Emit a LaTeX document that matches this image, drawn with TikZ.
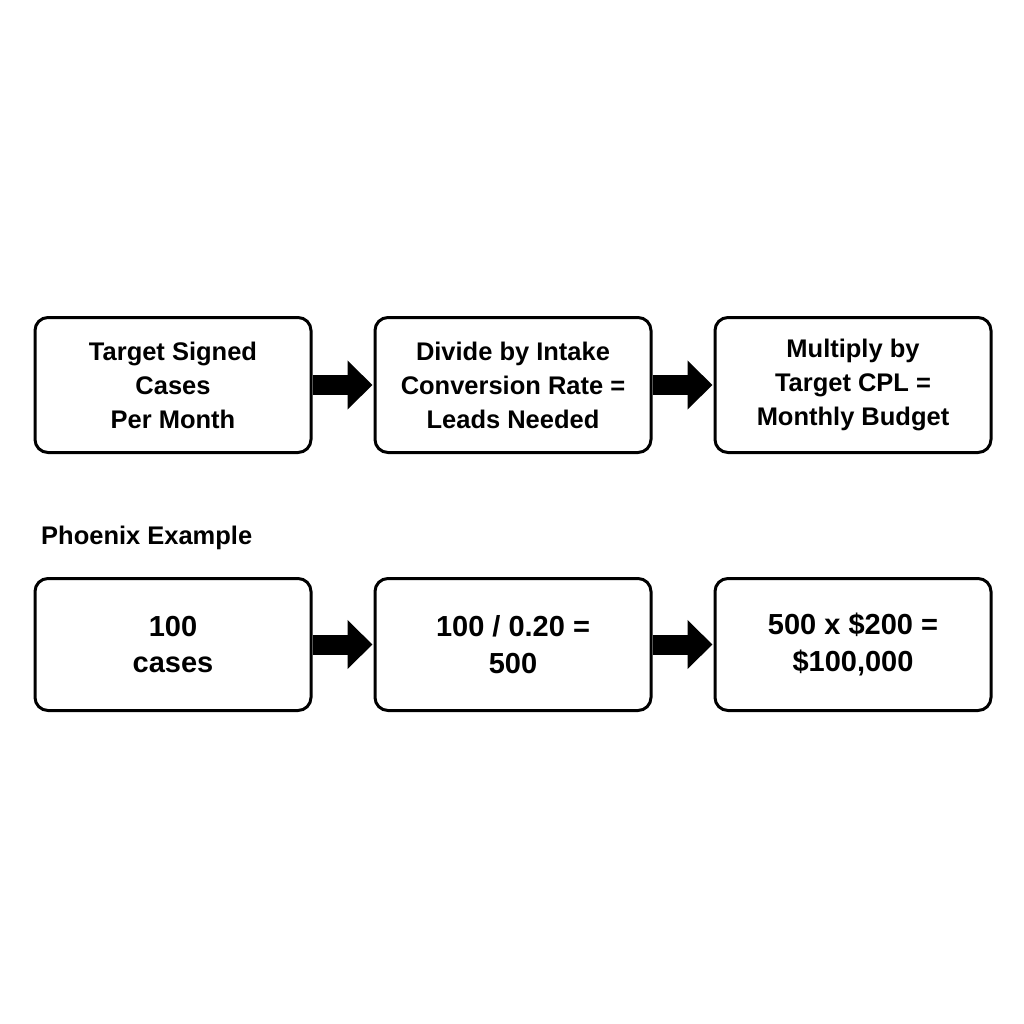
\documentclass[tikz,border=0pt]{standalone}
\usepackage{fontspec}
\setmainfont{Liberation Sans}
\usetikzlibrary{arrows.meta,positioning}
\tikzset{
  stage/.style={draw,line width=0.06cm,rounded corners=0.26cm,minimum width=5.52cm,
    minimum height=2.7cm,align=center,font=\fontsize{14.5pt}{19.3pt}\selectfont\bfseries},
  num/.style={stage,font=\fontsize{16.5pt}{21pt}\selectfont\bfseries},
  blk/.style={line width=0.4cm,-{Triangle[length=0.5cm,width=0.95cm]},shorten >=0.02cm}
}
\begin{document}
\begin{tikzpicture}
\useasboundingbox (0,0) rectangle (20.48,-20.48);
% formula row
\node[stage] (cases) at (3.46,-7.7) {Target Signed\\Cases\\Per Month};
\node[stage,right=1.22cm of cases] (leads) {Divide by Intake\\Conversion Rate =\\Leads Needed};
\node[stage,right=1.22cm of leads] (budget) {Multiply by\\Target CPL =\\Monthly Budget};
\draw[blk] (cases) -- (leads);
\draw[blk] (leads) -- (budget);
% worked example
\node[anchor=west,font=\fontsize{14.5pt}{18pt}\selectfont\bfseries] (title) at (0.7,-10.76) {Phoenix Example};
\node[num,minimum height=2.64cm,below=2.46cm of cases] (hundred) {100\\cases};
\node[num,minimum height=2.64cm,right=1.22cm of hundred] (five) {100 / 0.20 =\\500};
\node[num,minimum height=2.64cm,right=1.22cm of five] (total) {500 x \$200 =\\\$100,000};
\draw[blk] (hundred) -- (five);
\draw[blk] (five) -- (total);
\end{tikzpicture}
\end{document}
